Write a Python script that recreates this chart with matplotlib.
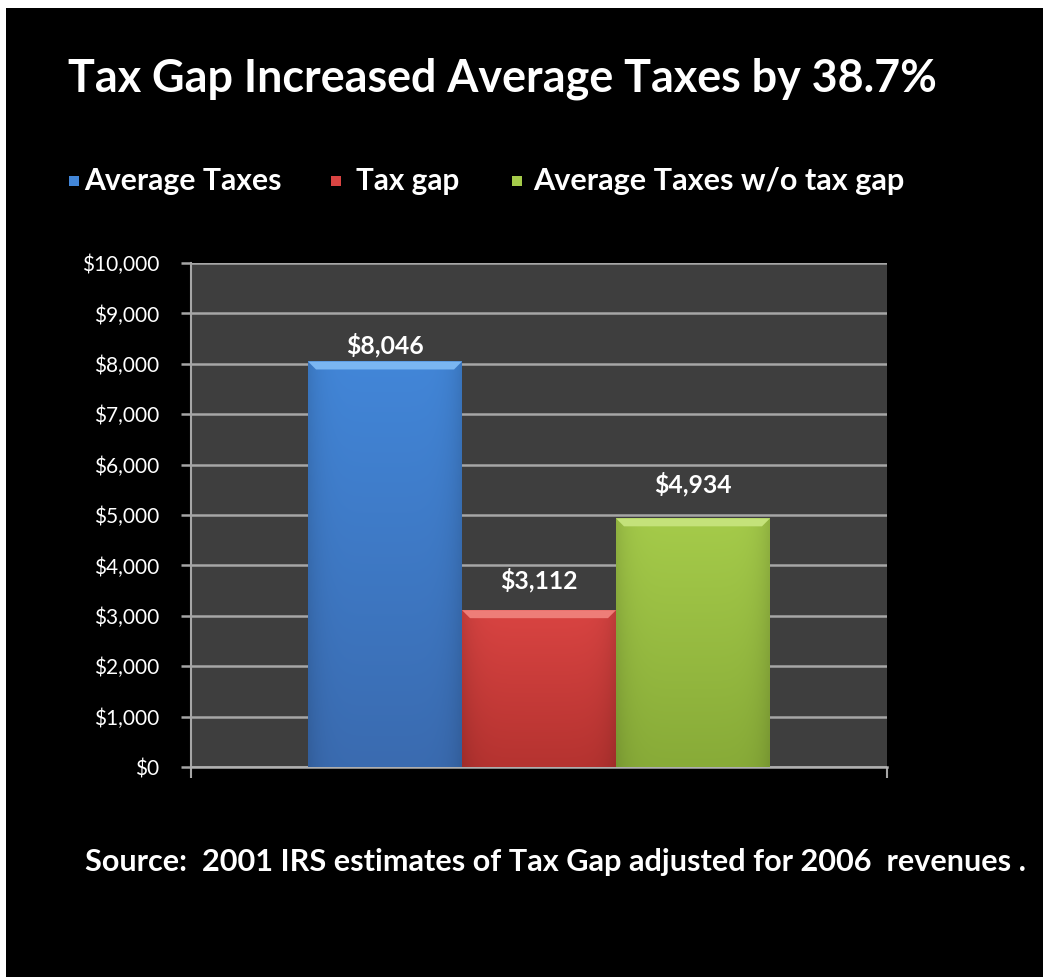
import numpy as np
import matplotlib
matplotlib.use("Agg")
import matplotlib.pyplot as plt
from matplotlib import font_manager
from matplotlib.patches import Polygon, Rectangle
from matplotlib.colors import to_rgb

# ---- data ----
series = ["Average Taxes", "Tax gap", "Average Taxes w/o tax gap"]
values = [8046, 3112, 4934]
yticks = [0, 1000, 2000, 3000, 4000, 5000, 6000, 7000, 8000, 9000, 10000]
title = "Tax Gap Increased Average Taxes by 38.7%"
source = "Source:  2001 IRS estimates of Tax Gap adjusted for 2006  revenues ."

# ---- styles ----
bar_top = ["#4286d8", "#d94442", "#a5cb4a"]
bar_bot = ["#3a6bb0", "#b53330", "#88ab38"]
bevel = ["#7ab6f2", "#ee7d78", "#c4e27a"]
label_offsets_px = [4, 18, 22]   # gap between bar top and its value label

names = {f.name for f in font_manager.fontManager.ttflist}
family = next((f for f in ["Lato", "Open Sans", "Noto Sans", "Liberation Sans"] if f in names),
              "DejaVu Sans")
plt.rcParams["font.family"] = [family, "DejaVu Sans"]

W, H = 1043, 977
fig = plt.figure(figsize=(W / 100, H / 100), dpi=100, facecolor="black")
renderer = fig.canvas.get_renderer()


def fx(px):
    return px / W


def fy(py):
    return 1 - py / H


def fit_width(txt, target_px):
    w = txt.get_window_extent(renderer).width
    txt.set_fontsize(txt.get_fontsize() * target_px / w)
    return txt


# white frame strips on top and left
fig.patches.append(Rectangle((0, fy(8)), 1, 8 / H, transform=fig.transFigure,
                             facecolor="white", edgecolor="none", zorder=-5))
fig.patches.append(Rectangle((0, 0), fx(6), 1, transform=fig.transFigure,
                             facecolor="white", edgecolor="none", zorder=-5))

ax_l, ax_r, ax_t, ax_b = 191, 887, 263, 767
ax = fig.add_axes([fx(ax_l), fy(ax_b), (ax_r - ax_l) / W, (ax_b - ax_t) / H])
ax.set_facecolor("#3e3e3e")

xlo, xhi = -1.26, 3.26
x = np.arange(len(values))
bars = ax.bar(x, values, width=1.0, color=bar_top, zorder=2, linewidth=0)
ax.set_ylim(0, 10000)
ax.set_xlim(xlo, xhi)

px_per_x = (ax_r - ax_l) / (xhi - xlo)
px_per_y = (ax_b - ax_t) / 10000

for i, b in enumerate(bars):
    x0, h = b.get_x(), b.get_height()
    x1 = x0 + b.get_width()
    c1, c2 = np.array(to_rgb(bar_top[i])), np.array(to_rgb(bar_bot[i]))
    t = np.linspace(0, 1, 200)[:, None]
    grad = c1 * (1 - t) + c2 * t
    s = np.linspace(-1, 1, 80)[None, :]
    shade = 1 - 0.12 * np.abs(s) ** 6
    img = grad[:, None, :] * shade[:, :, None]
    im = ax.imshow(np.clip(img, 0, 1), extent=(x0, x1, 0, h), aspect="auto",
                   origin="upper", zorder=3, interpolation="bilinear")
    im.set_clip_path(b)
    dx = 8 / px_per_x
    dy = 8 / px_per_y
    ax.add_patch(Polygon([(x0, h), (x1, h), (x1 - dx, h - dy), (x0 + dx, h - dy)],
                         closed=True, facecolor=bevel[i], edgecolor="none", zorder=4))
    lab = ax.annotate(f"${values[i]:,}", (x[i], h), xytext=(0, label_offsets_px[i] * 0.72),
                      textcoords="offset points", ha="center", va="bottom",
                      color="white", fontsize=15, fontweight="bold", zorder=5)
    fit_width(lab, 78)

ax.set_yticks(yticks)
ax.set_yticklabels([f"${v:,}" for v in yticks], color="white", fontsize=15)
ax.yaxis.grid(True, color="#a6a6a6", linewidth=1.8, zorder=1)
ax.set_axisbelow(True)
ax.tick_params(axis="y", length=7, width=1.8, color="#a6a6a6", pad=16)
ax.set_xticks([xlo, xhi])
ax.set_xticklabels([])
ax.tick_params(axis="x", length=8, width=1.5, color="#a6a6a6", direction="out")
for side in ["top", "right"]:
    ax.spines[side].set_visible(False)
ax.spines["left"].set_color("#a6a6a6")
ax.spines["left"].set_linewidth(1.5)
ax.spines["bottom"].set_color("#b0b0b0")
ax.spines["bottom"].set_linewidth(1.8)

t = fig.text(fx(68), fy(79), title, color="white", fontsize=30, fontweight="bold",
             ha="left", va="center")
fit_width(t, 869)

# legend: small square swatches followed by bold labels
leg_marker_x = [69, 331, 512]
leg_text = [(84, 197), (356, 103), (533, 371)]
for i, name in enumerate(series):
    fig.patches.append(Rectangle((fx(leg_marker_x[i]), fy(186)), 10 / W, 10 / H,
                                 transform=fig.transFigure, facecolor=bar_top[i],
                                 edgecolor="none"))
    lt = fig.text(fx(leg_text[i][0]), fy(181), name, color="white", fontsize=18,
                  fontweight="bold", ha="left", va="center")
    fit_width(lt, leg_text[i][1])

s = fig.text(fx(85), fy(862), source, color="white", fontsize=18, fontweight="bold",
             ha="left", va="center")
fit_width(s, 940)

fig.savefig("out.png", dpi=100, facecolor="black")
